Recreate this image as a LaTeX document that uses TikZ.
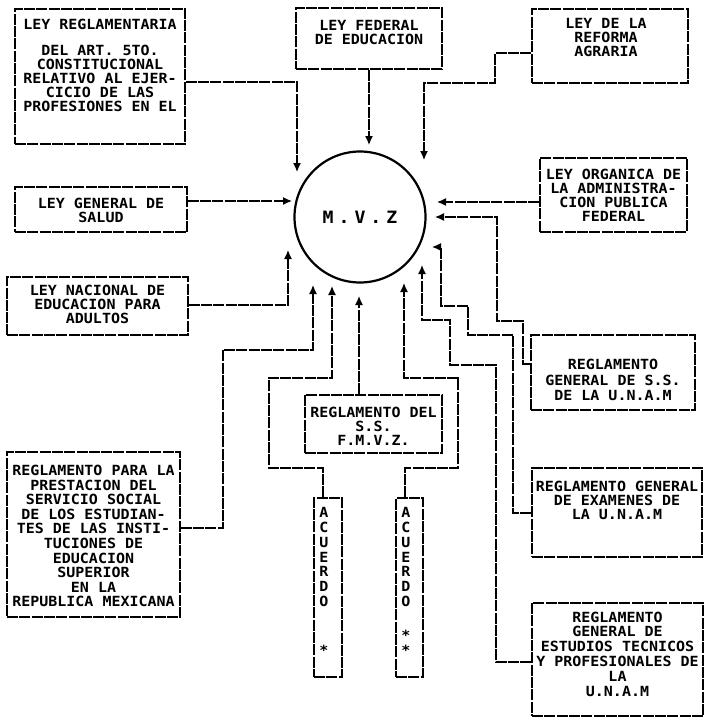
\documentclass[tikz,border=0pt]{standalone}
\usepackage{fontspec}
\setmonofont[FakeStretch=1.07]{DejaVu Sans Mono}
\usetikzlibrary{arrows.meta,calc}
\begin{document}
\begin{tikzpicture}[x=1pt,y=-1pt,
  ln/.style={line width=1.3pt, dash pattern=on 11pt off 1.3pt},
  box/.style={ln, draw, inner sep=0pt},
  txt/.style={font=\ttfamily\bfseries\fontsize{14}{14}\selectfont, align=center, inner sep=0pt},
  arr/.style={ln, -{Latex[length=9pt,width=8pt]}}]
\useasboundingbox (0,0) rectangle (705,720);

% central circle
\node[draw, circle, line width=2.2pt, minimum size=131pt, inner sep=0pt,
      font=\ttfamily\bfseries\fontsize{17}{17}\selectfont] (mvz) at (360,217)
      {M\hspace{5pt}.\hspace{5pt}V\hspace{5pt}.\hspace{5pt}Z\hspace{12pt}};

% boxes
\node[box, minimum width=170pt, minimum height=135pt] (lrg) at (100,76.5) {};
\node[txt] (lrgt) at (100,65)
  {LEY REGLAMENTARIA\\[12pt]DEL ART. 5TO.\\CONSTITUCIONAL\\RELATIVO AL EJER-\\CICIO DE LAS\\PROFESIONES EN EL};

\node[box, minimum width=146pt, minimum height=61pt] (lfe) at (369,38.5) {};
\node[txt] (lfet) at (369,32.5) {LEY FEDERAL\\DE EDUCACION};

\node[box, minimum width=156pt, minimum height=74pt] (lra) at (610,46) {};
\node[txt] (lrat) at (606,37) {LEY DE LA\\REFORMA\\AGRARIA};

\node[box, minimum width=172pt, minimum height=45pt] (lgs) at (101,209.5) {};
\node[txt] (lgst) at (101,210.5) {LEY GENERAL DE\\SALUD};

\node[box, minimum width=181pt, minimum height=58pt] (lna) at (97.5,306) {};
\node[txt] (lnat) at (97.5,304) {LEY NACIONAL DE\\EDUCACION PARA\\ADULTOS};

\node[box, minimum width=147pt, minimum height=74pt] (lor) at (613.5,195) {};
\node[txt] (lort) at (613.5,195) {LEY ORGANICA DE\\LA ADMINISTRA-\\CION PUBLICA\\FEDERAL};

\node[box, minimum width=164pt, minimum height=75pt] (rgs) at (613,372.5) {};
\node[txt, font=\ttfamily\bfseries\fontsize{14}{15.5}\selectfont] (rgst) at (613,380) {REGLAMENTO\\GENERAL DE S.S.\\DE LA U.N.A.M};

\node[box, minimum width=170pt, minimum height=89pt] (rex) at (617,512.5) {};
\node[txt] (rext) at (617,500) {REGLAMENTO GENERAL\\DE EXAMENES DE\\LA U.N.A.M};

\node[box, minimum width=171pt, minimum height=113pt] (res) at (617.5,659.5) {};
\node[txt, font=\ttfamily\bfseries\fontsize{14}{14.8}\selectfont] (rest) at (617.5,654) {REGLAMENTO\\GENERAL DE\\ESTUDIOS TECNICOS\\Y PROFESIONALES DE\\LA\\U.N.A.M};

\node[box, minimum width=173pt, minimum height=165pt] (rpr) at (93.5,534.5) {};
\node[txt, font=\ttfamily\bfseries\fontsize{14}{14.6}\selectfont] (rprt) at (93.5,536) {REGLAMENTO PARA LA\\PRESTACION DEL\\SERVICIO SOCIAL\\DE LOS ESTUDIAN-\\TES DE LAS INSTI-\\TUCIONES DE\\EDUCACION\\SUPERIOR\\EN LA\\REPUBLICA MEXICANA};

\node[box, minimum width=137pt, minimum height=58pt] (rss) at (373.5,424) {};
\node[txt] (rsst) at (373.5,426) {REGLAMENTO DEL\\S.S.\\F.M.V.Z.};

\node[box, minimum width=28pt, minimum height=179pt] (ac1) at (328,587.5) {};
\node[txt, font=\ttfamily\bfseries\fontsize{14}{14.7}\selectfont] (ac1t) at (324,557) {A\\C\\U\\E\\R\\D\\O};
\node[txt] (ac1s) at (324,650) {*};

\node[box, minimum width=27pt, minimum height=179pt] (ac2) at (409.5,587.5) {};
\node[txt, font=\ttfamily\bfseries\fontsize{14}{14.7}\selectfont] (ac2t) at (406,557) {A\\C\\U\\E\\R\\D\\O};
\node[txt, font=\ttfamily\bfseries\fontsize{14}{15}\selectfont] (ac2s) at (406,642.5) {*\\*};

% arrow tips
\coordinate (t1) at (297,172);
\coordinate (t2) at (369,145);
\coordinate (t3) at (424,160);
\coordinate (t4) at (292,201);
\coordinate (t5) at (288,250);
\coordinate (t6) at (437,202);
\coordinate (t7) at (435,217);
\coordinate (t8) at (432,247);
\coordinate (t9) at (422,265);
\coordinate (t10) at (313,285);
\coordinate (t11) at (332,286);
\coordinate (t12) at (359,296);
\coordinate (t13) at (404,283);

% connectors
\draw[arr] (lrg.east |- 0,82) -| (t1);
\draw[arr] (lfe.south) -- (t2);
\draw[arr] (lra.west |- 0,53) -- (495,53) -- (495,83) -| (t3);
\draw[arr] (lgs.east |- t4) -- (t4);
\draw[arr] (lna.east |- 0,305) -| (t5);
\draw[arr] (lor.west |- t6) -- (t6);
\draw[arr] (rgs.west |- 0,364) -- (523,364) -- (523,321) -- (497,321) |- (t7);
\draw[arr] (rex.west |- 0,513) -- (513,513) -- (513,335) -- (468,335) -- (468,306) -- (441,306) |- (t8);
\draw[arr] (res.west |- 0,662) -- (496,662) -- (496,365) -- (450,365) -- (450,320) -| (t9);
\draw[arr] (rpr.east |- 0,528) -- (223,528) -- (223,350) -| (t10);
\draw[arr] (ac1.north -| 323,0) -- (323,468) -- (269,468) -- (269,378) -| (t11);
\draw[arr] (rss.north -| t12) -- (t12);
\draw[arr] (ac2.north -| 405,0) -- (405,468) -- (458,468) -- (458,378) -| (t13);
\end{tikzpicture}
\end{document}
